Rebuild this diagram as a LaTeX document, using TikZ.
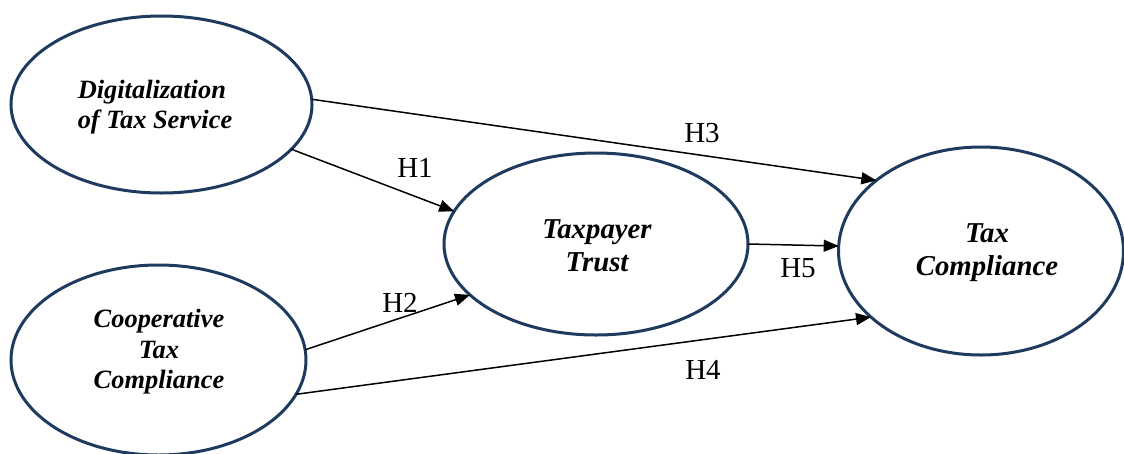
\documentclass[tikz,border=0pt]{standalone}
\usepackage{fontspec}
\setmainfont{Liberation Serif}
\usetikzlibrary{arrows.meta,shapes.geometric}
\definecolor{construct}{HTML}{1F3A5F}
\tikzset{
  latent/.style={ellipse, draw=construct, line width=3pt, inner sep=0pt, outer sep=0pt},
  ctext/.style={align=center, inner sep=0pt, font=\fontsize{26.4}{30.5}\selectfont\bfseries\itshape},
  ctextbig/.style={ctext, font=\fontsize{28.8}{33}\selectfont\bfseries\itshape},
  path/.style={line width=1.5pt, -{Triangle[length=15pt,width=12pt]}},
  hyp/.style={font=\fontsize{29}{32}\selectfont, inner sep=0pt}
}
\begin{document}
\begin{tikzpicture}[x=1pt,y=-1pt]
\useasboundingbox (0,0) rectangle (1124,453);

% constructs
\node[latent, minimum width=301pt, minimum height=177pt] (dig) at (161.5,104.5) {};
\node[latent, minimum width=295pt, minimum height=190pt] (coop) at (158.5,360) {};
\node[latent, minimum width=304pt, minimum height=182pt] (trust) at (596,244) {};
\node[latent, minimum width=285pt, minimum height=208pt] (comp) at (981,251) {};

% construct names
\node[ctext, align=left] (digT) at (155,107) {Digitalization\\of Tax Service};
\node[ctext] (coopT) at (159,352) {Cooperative\\Tax\\Compliance};
\node[ctextbig] (trustT) at (597,246) {Taxpayer\\Trust};
\node[ctextbig] (compT) at (987,253) {Tax\\Compliance};

% hypothesised paths
\draw[path] (dig.-19) -- (trust.167.4);
\draw[path] (coop.4.3) -- (trust.202.5);
\draw[path] (dig.2.5) -- (comp.146.6);
\draw[path] (coop.-14.2) -- (comp.211.1);
\draw[path] (trust.0) -- (comp.178.3);

% hypothesis labels
\node[hyp] (h1) at (415,168) {H1};
\node[hyp] (h2) at (400,303) {H2};
\node[hyp] (h3) at (702,133) {H3};
\node[hyp] (h4) at (703,370) {H4};
\node[hyp] (h5) at (798,268) {H5};
\end{tikzpicture}
\end{document}
